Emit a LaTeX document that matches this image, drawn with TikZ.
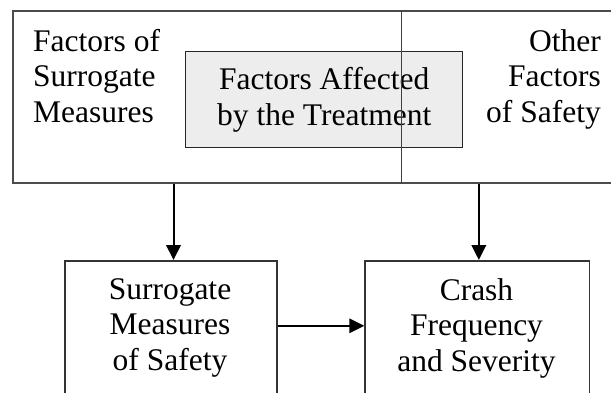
\documentclass[tikz,border=0pt]{standalone}
\usepackage{fontspec}
\setmainfont{Liberation Serif}
\usepackage{tikz}
\usetikzlibrary{arrows.meta}
\tikzset{
    frame/.style={draw=black!80, line width=1.6pt, inner sep=0pt},
    outerframe/.style={draw=black!70, line width=2pt, inner sep=0pt},
    treatbox/.style={draw=black!85, line width=1.2pt, fill=black!7, inner sep=0pt, align=center},
    lbl/.style={font=\fontsize{31.5}{35.5}\selectfont, inner sep=0pt},
    flow/.style={line width=2pt, -{Triangle[length=15pt,width=14.5pt]}},
    divider/.style={draw=black!75, line width=1pt}}

\begin{document}
\begin{tikzpicture}[x=1pt,y=-1pt]
        \useasboundingbox (0,0) rectangle (611,392);
        \clip (0,0) rectangle (611,392);

                    \node[outerframe, minimum width=637.3pt, minimum height=171.7pt] (factors) at (331.35,96.85) {};
                    % base anchor sits on the last line
                    \node[lbl, align=left, anchor=base west] (surrfac) at (33,122) {Factors of\\Surrogate\\Measures};
                    \node[lbl, align=right, anchor=base east] (otherfac) at (601,122) {Other\\Factors\\of Safety};
                    \node[treatbox, lbl, minimum width=277pt, minimum height=96pt] (treat) at (324.2,99.7) {Factors Affected\\by the Treatment};
                    \coordinate (split) at (401,100);
                    \draw[divider] (factors.north -| split) -- (factors.south -| split);

                    \node[frame, minimum width=212pt, minimum height=160pt, anchor=north west] (surr) at (64,260) {};
                    \node[lbl, align=center, anchor=base] (surrtxt) at (170,370) {Surrogate\\Measures\\of Safety};
                    \node[frame, minimum width=224.5pt, minimum height=160pt, anchor=north west] (crash) at (364.3,260) {};
                    \node[lbl, align=center, anchor=base] (crashtxt) at (476.5,371) {Crash\\Frequency\\and Severity};

                    \draw[flow] ([xshift=2.7pt]factors.south -| surr.north) -- ([xshift=2.7pt]surr.north);
                    \draw[flow] ([xshift=1.5pt]factors.south -| crash.north) -- ([xshift=1.5pt]crash.north);
                    \draw[flow] ([yshift=15pt]surr.east) -- ([yshift=15pt]crash.west);

                \end{tikzpicture}
\end{document}
